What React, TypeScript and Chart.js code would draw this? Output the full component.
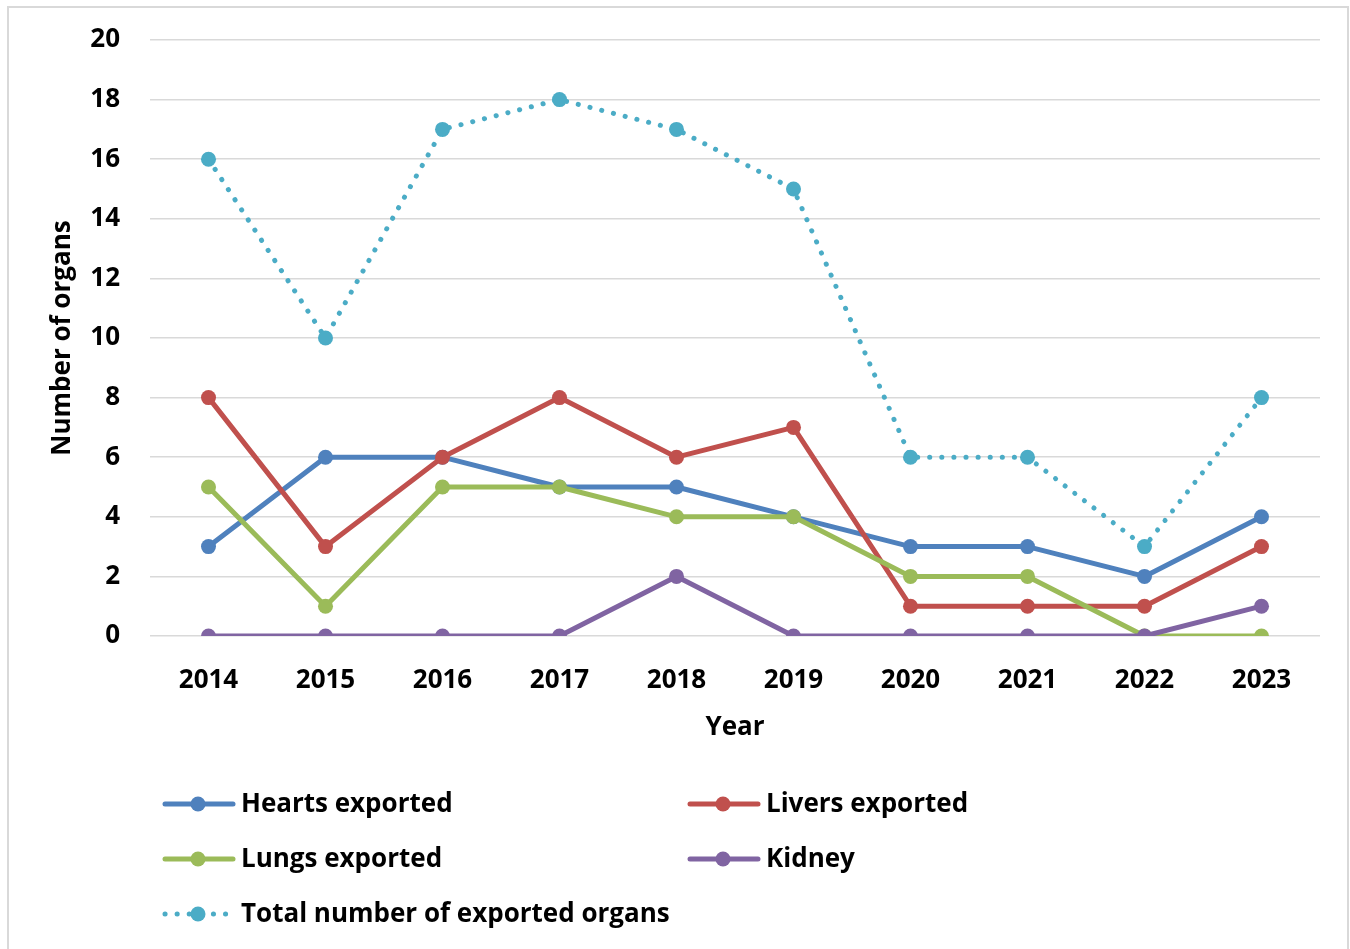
import React, { useEffect, useRef } from "react";
import { Chart, registerables } from "chart.js";

Chart.register(...registerables);

const years = ["2014", "2015", "2016", "2017", "2018", "2019", "2020", "2021", "2022", "2023"];
const hearts = [3, 6, 6, 5, 5, 4, 3, 3, 2, 4];
const livers = [8, 3, 6, 8, 6, 7, 1, 1, 1, 3];
const lungs = [5, 1, 5, 5, 4, 4, 2, 2, 0, 0];
const kidney = [0, 0, 0, 0, 2, 0, 0, 0, 0, 1];
const total = [16, 10, 17, 18, 17, 15, 6, 6, 3, 8];

const seriesNames = [
  "Hearts exported",
  "Livers exported",
  "Lungs exported",
  "Kidney",
  "Total number of exported organs",
];
const colors = ["#4F81BD", "#C0504D", "#9BBB59", "#8064A2", "#4BACC6"];

const FONT = "'Open Sans', Lato, sans-serif";
const FS = 26;

const legendPlugin = {
  id: "customLegend",
  afterDraw(chart: any) {
    const ctx = chart.ctx as CanvasRenderingContext2D;
    const items = [
      { i: 0, x: 154, y: 796 },
      { i: 1, x: 679, y: 796 },
      { i: 2, x: 154, y: 851 },
      { i: 3, x: 679, y: 851 },
      { i: 4, x: 154, y: 906 },
    ];
    ctx.save();
    items.forEach(({ i, x, y }) => {
      const ds = chart.data.datasets[i];
      ctx.strokeStyle = ds.borderColor;
      ctx.lineWidth = ds.borderWidth;
      ctx.lineCap = "round";
      ctx.setLineDash(ds.borderDash || []);
      ctx.beginPath();
      ctx.moveTo(x + 2, y);
      ctx.lineTo(x + 70, y);
      ctx.stroke();
      ctx.setLineDash([]);
      ctx.fillStyle = ds.pointBackgroundColor;
      ctx.beginPath();
      ctx.arc(x + 35, y, 7.5, 0, Math.PI * 2);
      ctx.fill();
      ctx.fillStyle = "#000";
      ctx.font = `bold ${FS}px ${FONT}`;
      ctx.textBaseline = "middle";
      ctx.textAlign = "left";
      ctx.fillText(seriesNames[i], x + 78, y + 1);
    });
    ctx.restore();
  },
};

export default function App() {
  const ref = useRef<HTMLCanvasElement>(null);

  useEffect(() => {
    if (!ref.current) return;
    const mk = (idx: number, data: number[], order: number, dashed = false) => ({
      label: seriesNames[idx],
      data,
      borderColor: colors[idx],
      backgroundColor: colors[idx],
      pointBackgroundColor: colors[idx],
      pointBorderColor: colors[idx],
      pointRadius: 7.5,
      pointBorderWidth: 0,
      borderWidth: 5,
      borderDash: dashed ? [0.1, 12] : undefined,
      borderCapStyle: "round" as const,
      borderJoinStyle: "round" as const,
      tension: 0,
      order,
    });
    const chart = new Chart(ref.current, {
      type: "line",
      data: {
        labels: years,
        datasets: [
          mk(0, hearts, 5),
          mk(1, livers, 4),
          mk(2, lungs, 3),
          mk(3, kidney, 2),
          mk(4, total, 1, true),
        ],
      },
      options: {
        animation: false,
        responsive: false,
        layout: { padding: { top: 32, right: 27, bottom: 193, left: 0 } },
        plugins: { legend: { display: false }, tooltip: { enabled: false } },
        scales: {
          x: {
            offset: true,
            grid: { display: false, drawTicks: false },
            border: { display: false },
            ticks: { color: "#000", font: { family: FONT, size: FS, weight: "bold" }, padding: 29 },
            title: {
              display: true,
              text: "Year",
              color: "#000",
              font: { family: FONT, size: FS, weight: "bold" },
              padding: { top: 0, bottom: 13 },
            },
            afterFit: (s: any) => {
              s.height = 120;
            },
          },
          y: {
            min: 0,
            max: 20,
            ticks: {
              stepSize: 2,
              color: "#000",
              font: { family: FONT, size: FS, weight: "bold" },
              padding: 30,
            },
            grid: { color: "#d9d9d9", lineWidth: 1.5, drawTicks: false },
            border: { display: false },
            title: {
              display: true,
              text: "Number of organs",
              color: "#000",
              font: { family: FONT, size: FS, weight: "bold" },
              padding: { top: 38, bottom: 0 },
            },
            afterFit: (s: any) => {
              s.width = 141;
              s.paddingTop = 0;
              s.paddingBottom = 0;
            },
          },
        },
      },
      plugins: [legendPlugin],
    });
    return () => chart.destroy();
  }, []);

  return (
    <div style={{ position: "fixed", inset: 0, overflow: "hidden", background: "#fff" }}>
      <div
        style={{
          position: "absolute",
          left: 7,
          top: 6,
          width: 1342,
          height: 960,
          boxSizing: "border-box",
          border: "2px solid #d9d9d9",
        }}
      >
        <canvas ref={ref} width={1338} height={941} style={{ display: "block", width: 1338, height: 941 }} />
      </div>
    </div>
  );
}
